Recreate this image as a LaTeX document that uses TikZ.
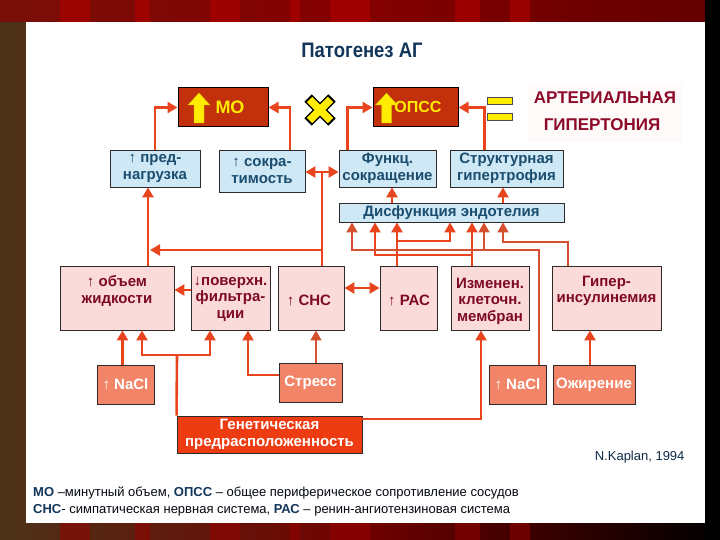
\documentclass[tikz,border=0pt]{standalone}
\usepackage{fontspec}
\setmainfont{Liberation Sans}
\newfontfamily\narrowfont[FakeStretch=0.88]{Liberation Sans}
\usetikzlibrary{arrows.meta,calc}
\definecolor{connred}{HTML}{E8441E}
\definecolor{connthin}{HTML}{D4502E}
\definecolor{bluefill}{HTML}{CFE8F6}
\definecolor{bluetext}{HTML}{1B4D6E}
\definecolor{pinkfill}{HTML}{FBDADA}
\definecolor{pinktext}{HTML}{7D0A22}
\definecolor{salmon}{HTML}{F28468}
\definecolor{genred}{HTML}{EE3C12}
\definecolor{mored}{HTML}{C3300C}
\definecolor{boxline}{HTML}{2E2A2A}
\definecolor{navy}{HTML}{12365A}
\definecolor{arttext}{HTML}{8C0A28}
\definecolor{yel}{HTML}{FFEC00}
\newcommand\boxfont{\bfseries\fontsize{15}{16.5}\selectfont}
\begin{document}
\begin{tikzpicture}[x=1pt,y=-1pt,
  bbox/.style={draw=boxline, fill=bluefill, line width=0.9pt, inner sep=0pt, text=bluetext, font=\boxfont, align=center},
  pbox/.style={draw=boxline, fill=pinkfill, line width=0.9pt, inner sep=0pt},
  ptext/.style={text=pinktext, font=\boxfont, align=center, inner sep=0pt},
  sbox/.style={draw=boxline, fill=salmon, line width=0.9pt, inner sep=0pt, text=white, font=\boxfont, align=center},
  gbox/.style={draw=boxline, fill=genred, line width=0.9pt, inner sep=0pt, text=white, font=\boxfont, align=center},
  mbox/.style={draw=black, fill=mored, line width=1pt, inner sep=0pt},
  yarrow/.style={fill=yel, draw=yel!80!black, line width=0.4pt},
  cl/.style={draw=connred, line width=2.6pt},
  ml/.style={draw=connred, line width=2pt},
  tl/.style={draw=connthin, line width=1.5pt},
  ar/.style={-{Triangle[length=10pt,width=11pt]}},
  dar/.style={{Triangle[length=10pt,width=11pt]}-{Triangle[length=10pt,width=11pt]}},
]
\useasboundingbox (0,0) rectangle (720,540);
% frame
\fill[left color=black!60!brown, right color=black, middle color=red!45!black] (0,0) rectangle (720,540);
\fill[red!55!black, opacity=0.7] (0,0) rectangle (720,22);
\foreach \a/\b in {60/90,135/150,210/240,290/300,330/370,455/480,510/530}{
  \fill[red!70!black, opacity=0.6] (\a,0) rectangle (\b,22);
  \fill[red!60!black, opacity=0.5] (\a,523) rectangle (\b,540);}
\fill[black] (705,0) rectangle (720,540);
\fill[white] (26,22) rectangle (705,523);
% title
\node[text=navy, font=\narrowfont\bfseries\fontsize{21}{23}\selectfont] (title) at (362,50) {Патогенез АГ};
% top row
\node[mbox, minimum width=90, minimum height=39] (MO) at (223,107.5) {};
\fill[yarrow] (199,93) -- (210,105) -- (204,105) -- (204,123) -- (194,123) -- (194,105) -- (188,105) -- cycle;
\node[text=yel, font=\bfseries\fontsize{18}{20}\selectfont] (MOt) at (230,107) {МО};
\node[mbox, minimum width=85, minimum height=39] (OP) at (415.5,107.5) {};
\fill[yarrow] (386.5,93) -- (397.5,105) -- (391.5,105) -- (391.5,123) -- (381.5,123) -- (381.5,105) -- (375.5,105) -- cycle;
\node[text=yel, font=\bfseries\fontsize{16}{18}\selectfont] (OPt) at (418,107) {ОПСС};
% cross
\draw[black, line width=10.5pt] (308,98) -- (332,122) (332,98) -- (308,122);
\draw[yel, line width=7.5pt] (309.5,99.5) -- (330.5,120.5) (330.5,99.5) -- (309.5,120.5);
% equals
\draw[fill=yel, draw=black!70, line width=0.6pt] (487,97) rectangle (512,104);
\draw[fill=yel, draw=black!70, line width=0.6pt] (487,113) rectangle (512,120);
\fill[red!2] (528,84) rectangle (682,142);
\node[text=arttext, font=\bfseries\fontsize{17}{19}\selectfont] (art1) at (605,98) {АРТЕРИАЛЬНАЯ};
\node[text=arttext, font=\bfseries\fontsize{17}{19}\selectfont] (art2) at (602,125) {ГИПЕРТОНИЯ};
% row 2
\node[bbox, minimum width=90, minimum height=37] (pre) at (155,168.5) {↑ пред-\\нагрузка};
\node[bbox, minimum width=86, minimum height=42] (sok) at (262,171) {↑ сокра-\\тимость};
\node[bbox, minimum width=97, minimum height=37] (func) at (387.5,168.5) {Функц.\\сокращение};
\node[bbox, minimum width=113, minimum height=37] (struct) at (506.5,168.5) {Структурная\\гипертрофия};
\node[bbox, minimum width=225, minimum height=19] (dysf) at (451.5,212.5) {Дисфункция эндотелия};
% row 3
\node[pbox, minimum width=114, minimum height=64] (vol) at (117,298) {};
\node[ptext] (volt) at (117,291) {↑ объем\\жидкости};
\node[pbox, minimum width=79, minimum height=64] (pov) at (230.5,298) {};
\node[ptext] (povt) at (230.5,299) {↓поверхн.\\фильтра-\\ции};
\node[pbox, minimum width=66, minimum height=64] (sns) at (311,298) {};
\node[ptext] (snst) at (309,300) {↑ СНС};
\node[pbox, minimum width=57, minimum height=64] (ras) at (408.5,298) {};
\node[ptext] (rast) at (409,300) {↑ РАС};
\node[pbox, minimum width=78, minimum height=64] (izm) at (490,298) {};
\node[ptext] (izmt) at (490,301) {Изменен.\\клеточн.\\мембран};
\node[pbox, minimum width=109, minimum height=64] (giper) at (606.5,298) {};
\node[ptext] (gipert) at (606.5,291) {Гипер-\\инсулинемия};
% row 4
\node[sbox, minimum width=57, minimum height=39] (nacl1) at (125.5,384.5) {↑ NaCl};
\node[sbox, minimum width=63, minimum height=39] (stress) at (310.5,383) {Стресс};
\node[sbox, minimum width=57, minimum height=39] (nacl2) at (517.5,384.5) {↑ NaCl};
\node[sbox, minimum width=82, minimum height=39] (ozh) at (594,384.5) {Ожирение};
\node[gbox, minimum width=185, minimum height=37] (gen) at (269.5,434.5) {Генетическая\\предрасположенность};
% junctions
\coordinate (jA) at (322,172);
\coordinate (jB) at (322,250);
\coordinate (vL) at ($(vol.north)+(31,0)$);
\coordinate (g1) at (177,355);
\coordinate (n1) at (539,250);
\coordinate (n2) at (352,250);
\coordinate (k1) at (484,250);
\coordinate (i1) at (472,255);
\coordinate (i2) at (375,255);
\coordinate (r1) at (397,241);
\coordinate (r2) at (450,241);
\coordinate (h1) at (568,242);
\coordinate (h2) at (503,242);
% connectors upper
\draw[cl,ar] (pre.north) |- (MO.west);
\draw[cl,ar] ($(sok.north)+(28,0)$) |- (MO.east);
\draw[cl,ar] ($(func.north)+(-40,0)$) |- (OP.west);
\draw[cl,ar] ($(struct.north)+(-22,0)$) |- (OP.east);
\draw[cl,dar] (sok.east |- jA) -- (func.west |- jA);
\draw[cl] (jA) -- (jA |- sns.north);
\draw[cl,ar] (jB) -- ($(jB -| vL)+(2,0)$);
\draw[cl,ar] (vL) -- (vL |- pre.south);
\draw[cl,ar] ($(dysf.north -| func.south)+(4.5,0)$) -- ($(func.south)+(4.5,0)$);
\draw[cl,ar] ($(dysf.north -| struct.south)+(-3.5,0)$) -- ($(struct.south)+(-3.5,0)$);
% row 3 links
\draw[cl,ar] ($(pov.west)+(0,-8)$) -- ($(pov.west -| vol.east)+(0,-8)$);
\draw[cl,dar] ($(sns.east)+(0,-10)$) -- ($(ras.west)+(0,-10)$);
% into dysfunction
\draw[cl,ar] (r1 |- ras.north) -- (r1 |- dysf.south);
\draw[ml,ar] (r1) -| (r2 |- dysf.south);
\draw[ml,ar] (i1 |- izm.north) -- (i1 |- dysf.south);
\draw[ml,ar] (i1) -| (i2 |- dysf.south);
\draw[tl,ar] (n1 |- nacl2.north) -- (n1) -| (n2 |- dysf.south);
\draw[tl,ar] (k1) -- (k1 |- dysf.south);
\draw[tl,ar] (h1 |- giper.north) -- (h1) -| (h2 |- dysf.south);
% lower
\draw[cl,ar] ($(nacl1.north)+(-3,0)$) -- ($(nacl1.north |- vol.south)+(-3,0)$);
\draw[cl] (gen.north west) -- (g1);
\draw[cl,ar] (g1) -| ($(vol.south)+(25,0)$);
\draw[cl,ar] (g1) -| ($(pov.south)+(-20.5,0)$);
\draw[cl,ar] ($(stress.west)+(0,-8)$) -| ($(pov.south)+(17.5,0)$);
\draw[tl,ar] ($(stress.north)+(5.5,0)$) -- ($(sns.south)+(5,0)$);
\draw[ml,ar] ($(gen.north east)+(0,3)$) -| ($(izm.south)+(-9,0)$);
\draw[cl,ar] ($(ozh.north)+(-4,0)$) -- ($(giper.south)+(-16.5,0)$);
% notes
\node[anchor=east, text=navy!80!black, font=\fontsize{13}{15}\selectfont] (kap) at (688,457) {N.Kaplan, 1994};
\node[anchor=west, text=black!85!navy, font=\fontsize{13}{15}\selectfont, inner sep=0pt] (f1) at (33,493) {\textbf{\color{navy}МО} –минутный объем, \textbf{\color{navy}ОПСС} – общее периферическое сопротивление сосудов};
\node[anchor=west, text=black!85!navy, font=\fontsize{13}{15}\selectfont, inner sep=0pt] (f2) at (33,510) {\textbf{\color{navy}СНС}- симпатическая нервная система, \textbf{\color{navy}РАС} – ренин-ангиотензиновая система};
\end{tikzpicture}
\end{document}
